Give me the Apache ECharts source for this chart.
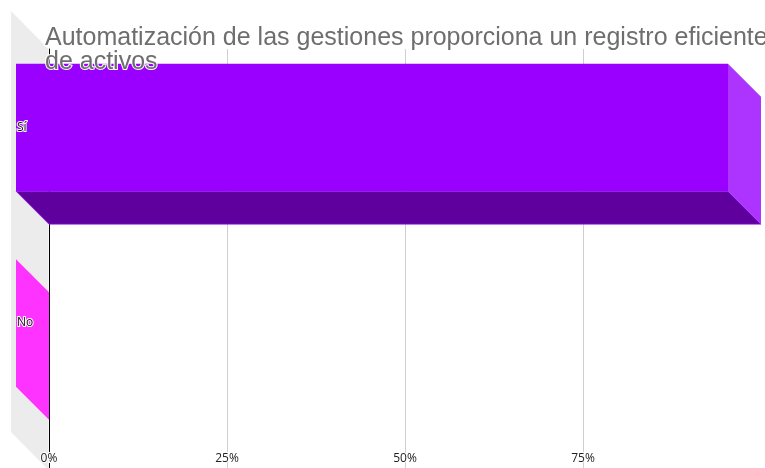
<!DOCTYPE html>
<html>
<head>
<meta charset="utf-8">
<script src="https://cdn.jsdelivr.net/npm/echarts@6/dist/echarts.min.js"></script>
<style>
  html, body { margin: 0; padding: 0; background: #fff; }
  #chart { width: 765px; height: 468px; }
</style>
</head>
<body>
<div id="chart"></div>
<script>
// Survey answers and their share of responses (%)
const categories = ['Sí', 'No'];
const shares = [100, 0];
const barColors = ['#9900FF', '#FF00FF'];
const tickValues = [0, 25, 50, 75, 100];

const titleText = 'Automatización de las gestiones proporciona un registro eficiente\nde activos';

// Pseudo-3D depth offset (px), applied up and to the left
const DEPTH = 33;
const WALL_DEPTH = 38;

function shade(hex, f) {
  const n = parseInt(hex.slice(1), 16);
  let r = (n >> 16) & 255, g = (n >> 8) & 255, b = n & 255;
  if (f >= 0) {
    r = r + (255 - r) * f; g = g + (255 - g) * f; b = b + (255 - b) * f;
  } else {
    r = r * (1 + f); g = g * (1 + f); b = b * (1 + f);
  }
  return 'rgb(' + Math.round(r) + ',' + Math.round(g) + ',' + Math.round(b) + ')';
}

const chart = echarts.init(document.getElementById('chart'), null, { renderer: 'canvas' });

const option = {
  animation: false,
  backgroundColor: '#fff',
  title: {
    text: titleText,
    left: 40,
    top: 21,
    textStyle: {
      fontFamily: 'Liberation Sans, Arial, sans-serif',
      fontSize: 25,
      fontWeight: 'normal',
      color: '#6e6e6e',
      lineHeight: 24,
      textBorderColor: '#fff',
      textBorderWidth: 2
    },
    z: 20
  },
  grid: [
    // grid for the walls, grid lines and tick labels
    { left: 49, right: 4, top: 49, bottom: 0 },
    // grid for the bars
    { left: 49, right: 4, top: 62.75, bottom: 14.25 }
  ],
  xAxis: [
    {
      gridIndex: 0,
      type: 'value',
      min: tickValues[0],
      max: tickValues[tickValues.length - 1],
      interval: tickValues[1] - tickValues[0],
      axisLine: { show: false },
      axisTick: { show: false },
      splitLine: {
        show: true,
        showMinLine: false,
        showMaxLine: false,
        lineStyle: { color: '#cfcfcf', width: 1 }
      },
      axisLabel: {
        inside: true,
        margin: 3,
        showMaxLabel: false,
        formatter: '{value}%',
        fontFamily: 'Open Sans, sans-serif',
        fontSize: 12,
        color: '#222',
        textBorderColor: '#fff',
        textBorderWidth: 2
      },
      z: 5
    },
    {
      gridIndex: 1,
      type: 'value',
      min: tickValues[0],
      max: tickValues[tickValues.length - 1],
      show: false
    }
  ],
  yAxis: [
    {
      gridIndex: 0,
      type: 'category',
      data: categories,
      inverse: true,
      axisLine: { show: true, lineStyle: { color: '#000', width: 1 } },
      axisTick: { show: false },
      axisLabel: { show: false },
      splitLine: { show: false },
      z: 4
    },
    {
      gridIndex: 1,
      type: 'category',
      data: categories,
      inverse: true,
      show: false
    }
  ],
  series: [
    {
      // left side wall
      type: 'custom',
      xAxisIndex: 0,
      yAxisIndex: 0,
      z: 0,
      silent: true,
      data: [[0, 0]],
      renderItem: function (params, api) {
        const cs = params.coordSys;
        const x = cs.x, y = cs.y, h = cs.height;
        return {
          type: 'polygon',
          shape: {
            points: [
              [x - WALL_DEPTH, y - WALL_DEPTH],
              [x - 0.5, y],
              [x - 0.5, y + h + 2],
              [x - WALL_DEPTH, y + h + 2 - WALL_DEPTH]
            ]
          },
          style: { fill: '#ececec' }
        };
      }
    },
    {
      // bars drawn as boxes
      type: 'custom',
      xAxisIndex: 1,
      yAxisIndex: 1,
      z: 10,
      data: shares.map(function (v, i) { return [v, i]; }),
      encode: { x: 0, y: 1 },
      renderItem: function (params, api) {
        const v = api.value(0);
        const idx = api.value(1);
        const p0 = api.coord([0, idx]);
        const p1 = api.coord([v, idx]);
        const band = api.size([0, 1])[1];
        const h = band * 0.652;
        const top = p0[1] - h / 2;
        const bottom = p0[1] + h / 2;
        const d = DEPTH;
        const base = barColors[idx];
        const children = [];
        if (p1[0] > p0[0]) {
          // bottom face
          children.push({
            type: 'polygon',
            shape: { points: [[p0[0] - d, bottom - d], [p1[0] - d, bottom - d], [p1[0], bottom], [p0[0], bottom]] },
            style: { fill: shade(base, -0.38), stroke: shade(base, 0.1), lineWidth: 0.6 }
          });
          // front face
          children.push({
            type: 'rect',
            shape: { x: p0[0] - d, y: top - d, width: p1[0] - p0[0], height: h },
            style: { fill: base }
          });
        }
        // end cap
        children.push({
          type: 'polygon',
          shape: { points: [[p1[0] - d, top - d], [p1[0], top], [p1[0], bottom], [p1[0] - d, bottom - d]] },
          style: { fill: shade(base, 0.2) }
        });
        // category label on the face
        children.push({
          type: 'text',
          style: {
            text: categories[idx],
            x: p0[0] - d + 1,
            y: (top + bottom) / 2 - d,
            align: 'left',
            verticalAlign: 'middle',
            fontFamily: 'Open Sans, sans-serif',
            fontSize: 12,
            fill: '#111',
            stroke: '#fff',
            lineWidth: 2
          },
          z2: 5
        });
        return { type: 'group', children: children };
      }
    }
  ]
};

chart.setOption(option);
</script>
</body>
</html>
